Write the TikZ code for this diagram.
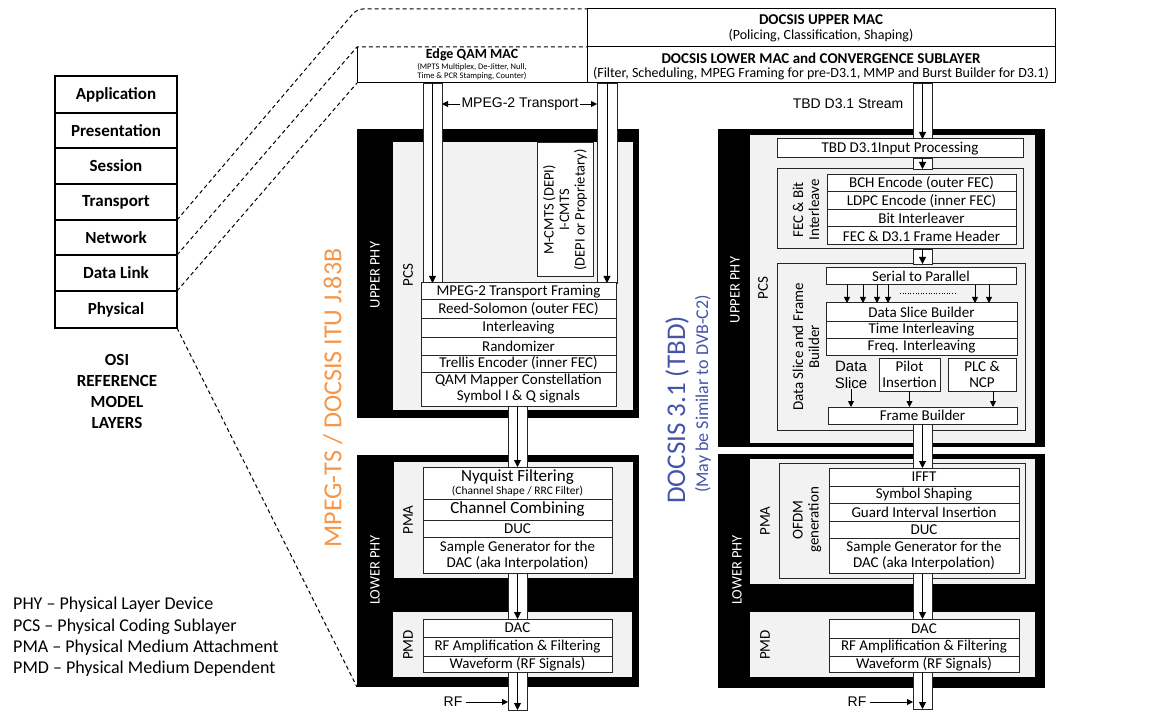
\documentclass[tikz,border=0pt]{standalone}
\usepackage{fontspec}
\setmainfont{Carlito}
\newfontfamily\arialf{Liberation Sans}
\usetikzlibrary{arrows.meta}
\definecolor{panelgray}{RGB}{242,242,242}
\definecolor{orng}{RGB}{247,150,70}
\definecolor{blu}{RGB}{68,84,170}
\newcommand\stkfont{\fontsize{15}{16}\selectfont}
\newcommand\boxat[7]{%
  \pgfmathsetmacro\bxcx{(#3+#5)/2}%
  \pgfmathsetmacro\bxcy{(#4+#6)/2}%
  \pgfmathsetmacro\bxw{#5-#3}%
  \pgfmathsetmacro\bxh{#6-#4}%
  \node[#1, minimum width=\bxw pt, minimum height=\bxh pt, inner sep=0pt, outer sep=0pt] (#2) at (\bxcx,\bxcy) {#7};}
\tikzset{
 blackframe/.style={fill=black, draw=none},
 gpanel/.style={fill=panelgray, draw=none},
 macbox/.style={draw, fill=white, line width=1pt, align=center},
 mactitle/.style={font=\bfseries\fontsize{15}{16}\selectfont, inner sep=0pt},
 macsub/.style={font=\fontsize{14}{15}\selectfont, inner sep=0pt},
 eqsub/.style={font=\fontsize{8.5}{9}\selectfont, inner sep=0pt},
 stk/.style={draw=black!85, fill=white, line width=1pt, align=center, font=\stkfont},
 obox/.style={draw=black!85, line width=1pt},
 pipebox/.style={draw=black!85, fill=white, line width=0.9pt},
 pipearrow/.style={line width=0.9pt, -{Triangle[length=7pt,width=7pt]}},
 sarrow/.style={line width=0.9pt, -{Triangle[length=6pt,width=6pt]}},
 lbl/.style={rotate=90, align=center, font=\stkfont},
 wlbl/.style={rotate=90, text=white, font=\fontsize{14.5}{15}\selectfont},
 osi/.style={draw, line width=1.2pt, font=\bfseries\fontsize{17}{18}\selectfont},
 dashline/.style={line width=1pt, dash pattern=on 4pt off 3pt},
 arialtext/.style={font=\arialf\fontsize{14}{16}\selectfont, align=center},
 legend/.style={anchor=west, font=\fontsize{18}{20}\selectfont, inner sep=0pt},
}
\begin{document}
\begin{tikzpicture}[x=1pt,y=-1pt]
\useasboundingbox[fill=white] (0,0) rectangle (1175,719);

% ---------- OSI stack ----------
\boxat{osi}{osiA}{55}{76}{177}{113}{Application}
\boxat{osi}{osiP}{55}{113}{177}{148}{Presentation}
\boxat{osi}{osiS}{55}{148}{177}{184}{Session}
\boxat{osi}{osiT}{55}{184}{177}{220}{Transport}
\boxat{osi}{osiN}{55}{220}{177}{255}{Network}
\boxat{osi}{osiD}{55}{255}{177}{291}{Data Link}
\boxat{osi}{osiY}{55}{291}{177}{328}{Physical}
\node[align=center, font=\bfseries\fontsize{17}{21}\selectfont] (osilbl) at (117,391) {OSI\\REFERENCE\\MODEL\\LAYERS};

% ---------- legend ----------
\node[legend] (lg1) at (13,605) {PHY – Physical Layer Device};
\node[legend] (lg2) at (13,627) {PCS – Physical Coding Sublayer};
\node[legend] (lg3) at (13,648) {PMA – Physical Medium Attachment};
\node[legend] (lg4) at (13,669) {PMD – Physical Medium Dependent};

% ---------- frames and panels ----------
\boxat{blackframe}{lup}{357}{129}{639}{418}{}
\boxat{gpanel}{lpcs}{393}{142}{633}{410}{}
\boxat{blackframe}{llo}{357}{455}{639}{687}{}
\boxat{gpanel}{lpma}{394}{462}{633}{578}{}
\boxat{gpanel}{lpmd}{393}{612}{632}{677}{}
\boxat{blackframe}{rup}{718}{129}{1045}{447}{}
\boxat{gpanel}{rpcs}{750}{135}{1035}{443}{}
\boxat{blackframe}{rlo}{718}{454}{1045}{688}{}
\boxat{gpanel}{rpma}{750}{459}{1035}{584}{}
\boxat{gpanel}{rpmd}{750}{612}{1035}{677}{}

% ---------- MAC boxes ----------
\boxat{macbox}{umac}{587}{9}{1055}{47}{}
\node[mactitle] (umact) at (821,20) {DOCSIS UPPER MAC};
\node[macsub] (umacs) at (821,36) {(Policing, Classification, Shaping)};
\boxat{macbox}{lmac}{587}{47}{1055}{83}{}
\node[mactitle] (lmact) at (821,58) {DOCSIS LOWER MAC and CONVERGENCE SUBLAYER};
\node[macsub] (lmacs) at (821,73.5) {(Filter, Scheduling, MPEG Framing for pre-D3.1, MMP and Burst Builder for D3.1)};
\boxat{macbox, draw=none}{eq}{357}{47}{587}{83}{}
\draw[line width=1pt] (eq.north west) -- (eq.south west) -- (eq.south east);
\node[mactitle, font=\bfseries\fontsize{14}{15}\selectfont] (eqt) at (472,55) {Edge QAM MAC};
\node[eqsub] (eqs1) at (472,67) {(MPTS Multiplex, De-Jitter, Null,};
\node[eqsub] (eqs2) at (472,76.5) {Time \& PCR Stamping, Counter)};

% ---------- dashed connectors ----------
\coordinate (bend1) at (357,9);
\draw[dashline, rounded corners=6pt] (osiT.south east) -- (bend1) -- (umac.north west);
\draw[dashline] (osiN.south east) -- (eq.north west) -- (lmac.north west);
\draw[dashline] (osiD.south east) -- (eq.south west);
\draw[dashline] (osiY.south east) -- (llo.south west);

% ---------- outer group boxes ----------
\boxat{obox}{fec}{777}{169}{1023}{249}{}
\boxat{obox}{dsf}{777}{264}{1025}{430}{}
\boxat{obox}{ofdm}{779}{463}{1025}{578}{}

% ---------- pipes ----------
\boxat{pipebox}{pA}{423}{83}{442}{283}{}
\boxat{pipebox}{pB}{597}{83}{617}{283}{}
\boxat{pipebox}{pC}{508}{406}{527}{467}{}
\boxat{pipebox}{pD}{508}{573}{527}{619}{}
\boxat{pipebox}{pE}{508}{672}{527}{710}{}
\boxat{pipebox}{qA}{913}{83}{932}{139}{}
\boxat{pipebox}{qB}{913}{158}{932}{169}{}
\boxat{pipebox}{qC}{913}{249}{932}{264}{}
\boxat{pipebox}{qD}{913}{424}{932}{468}{}
\boxat{pipebox}{qE}{913}{573}{932}{619}{}
\boxat{pipebox}{qF}{913}{672}{932}{709}{}
\foreach \p in {pA,pB,pC,pD,pE,qA,qB,qC,qD,qE,qF}
  \draw[pipearrow] (\p.north) -- (\p.south);

% ---------- left column stacks ----------
\boxat{stk}{mc}{537}{143}{593}{277}{}
\node[lbl, font=\fontsize{14.5}{15.5}\selectfont] (mctext) at (mc) {M-CMTS (DEPI)\\I-CMTS\\(DEPI or Proprietary)};
\boxat{stk}{b1}{421}{283}{616}{300}{MPEG-2 Transport Framing}
\boxat{stk}{b2}{421}{300}{616}{318}{Reed-Solomon (outer FEC)}
\boxat{stk}{b3}{421}{318}{616}{337}{Interleaving}
\boxat{stk}{b4}{421}{337}{616}{355}{Randomizer}
\boxat{stk}{b5}{421}{355}{616}{372}{Trellis Encoder (inner FEC)}
\boxat{stk}{b6}{421}{372}{616}{406}{QAM Mapper Constellation\\Symbol I \& Q signals}
\boxat{stk}{c1}{423}{467}{612}{499}{{\fontsize{17}{17}\selectfont Nyquist Filtering}\\[-3pt]{\fontsize{11.5}{12}\selectfont (Channel Shape / RRC Filter)}}
\boxat{stk}{c2}{423}{499}{612}{520}{\fontsize{17}{17}\selectfont Channel Combining}
\boxat{stk}{c3}{423}{520}{612}{537}{DUC}
\boxat{stk}{c4}{423}{537}{612}{573}{Sample Generator for the\\DAC (aka Interpolation)}
\boxat{stk}{d1}{423}{619}{612}{637}{DAC}
\boxat{stk}{d2}{423}{637}{612}{656}{RF Amplification \& Filtering}
\boxat{stk}{d3}{423}{656}{612}{672}{Waveform (RF Signals)}

% ---------- right column stacks ----------
\boxat{stk}{e0}{777}{139}{1023}{158}{TBD D3.1Input Processing}
\boxat{stk}{e1}{827}{175}{1016}{192}{BCH Encode (outer FEC)}
\boxat{stk}{e2}{827}{192}{1016}{210}{LDPC Encode (inner FEC)}
\boxat{stk}{e3}{827}{210}{1016}{227}{Bit Interleaver}
\boxat{stk}{e4}{827}{227}{1016}{245}{FEC \& D3.1 Frame Header}
\node[lbl] (feclbl) at (806,210) {FEC \& Bit\\Interleave};
\boxat{stk}{f0}{826}{268}{1016}{285}{Serial to Parallel}
\boxat{stk}{f1}{826}{303}{1017}{321}{Data Slice Builder}
\boxat{stk}{f2}{826}{321}{1017}{338}{Time Interleaving}
\boxat{stk}{f3}{826}{338}{1017}{355}{Freq. Interleaving}
\node[arialtext, font=\arialf\fontsize{15}{17}\selectfont, inner sep=0pt] (ds) at (851,375) {Data\\Slice};
\boxat{stk}{pil}{879}{358}{940}{391}{Pilot\\Insertion}
\boxat{stk}{plc}{948}{358}{1016}{391}{PLC \&\\NCP}
\boxat{stk}{fb}{828}{407}{1017}{424}{Frame Builder}
\node[lbl] (dsflbl) at (806,347) {Data Slice and Frame\\Builder};
\foreach \x in {847,863,877,888,975,989}
  \draw[sarrow] (f0.south -| \x,0) -- (f1.north -| \x,0);
\draw[line width=0.7pt, dash pattern=on 1pt off 1.6pt] (900,293) -- (957,293);
\draw[sarrow] (ds.south) -- (ds.south |- fb.north);
\draw[sarrow] (pil.south) -- (pil.south |- fb.north);
\draw[sarrow] (plc.south -| 993,0) -- (fb.north -| 993,0);

\boxat{stk}{g1}{829}{468}{1019}{486}{IFFT}
\boxat{stk}{g2}{829}{486}{1019}{503}{Symbol Shaping}
\boxat{stk}{g3}{829}{503}{1019}{521}{Guard Interval Insertion}
\boxat{stk}{g4}{829}{521}{1019}{538}{DUC}
\boxat{stk}{g5}{829}{538}{1019}{573}{Sample Generator for the\\DAC (aka Interpolation)}
\node[lbl] (ofdmlbl) at (807,520) {OFDM\\generation};
\boxat{stk}{h1}{829}{619}{1019}{638}{DAC}
\boxat{stk}{h2}{829}{638}{1019}{656}{RF Amplification \& Filtering}
\boxat{stk}{h3}{829}{656}{1019}{672}{Waveform (RF Signals)}

% ---------- layer labels ----------
\node[wlbl] (l1) at (375,275) {UPPER PHY};
\node[wlbl] (l2) at (375,570) {LOWER PHY};
\node[wlbl] (l3) at (735,290) {UPPER PHY};
\node[wlbl] (l4) at (737,570) {LOWER PHY};
\node[lbl] (l5) at (408,275) {PCS};
\node[lbl] (l6) at (408,520) {PMA};
\node[lbl] (l7) at (408,645) {PMD};
\node[lbl] (l8) at (763,288) {PCS};
\node[lbl] (l9) at (765,521) {PMA};
\node[lbl] (l10) at (765,645) {PMD};

% ---------- transport labels ----------
\node[arialtext, fill=white, inner sep=1pt] (mt) at (520,104) {MPEG-2 Transport};
\draw[sarrow] (mt.west) -- (mt.west -| pA.east);
\draw[sarrow] (mt.east) -- (mt.east -| pB.west);
\node[arialtext] (tbd) at (848,104) {TBD D3.1 Stream};
\node[arialtext] (rf1) at (453,702) {RF};
\draw[sarrow] (rf1.east) -- (rf1.east -| pE.west);
\node[arialtext] (rf2) at (857,702) {RF};
\draw[sarrow] (rf2.east) -- (rf2.east -| qF.west);

% ---------- big titles ----------
\node[rotate=90, text=orng, font=\fontsize{26}{28}\selectfont] (ttl1) at (333,398) {MPEG-TS / DOCSIS ITU J.83B};
\node[rotate=90, text=blu, font=\fontsize{27}{28}\selectfont] (ttl2) at (677,410) {DOCSIS 3.1 (TBD)};
\node[rotate=90, text=blu, font=\fontsize{18}{19}\selectfont] (ttl3) at (703,394) {(May be Similar to DVB-C2)};
\end{tikzpicture}
\end{document}
